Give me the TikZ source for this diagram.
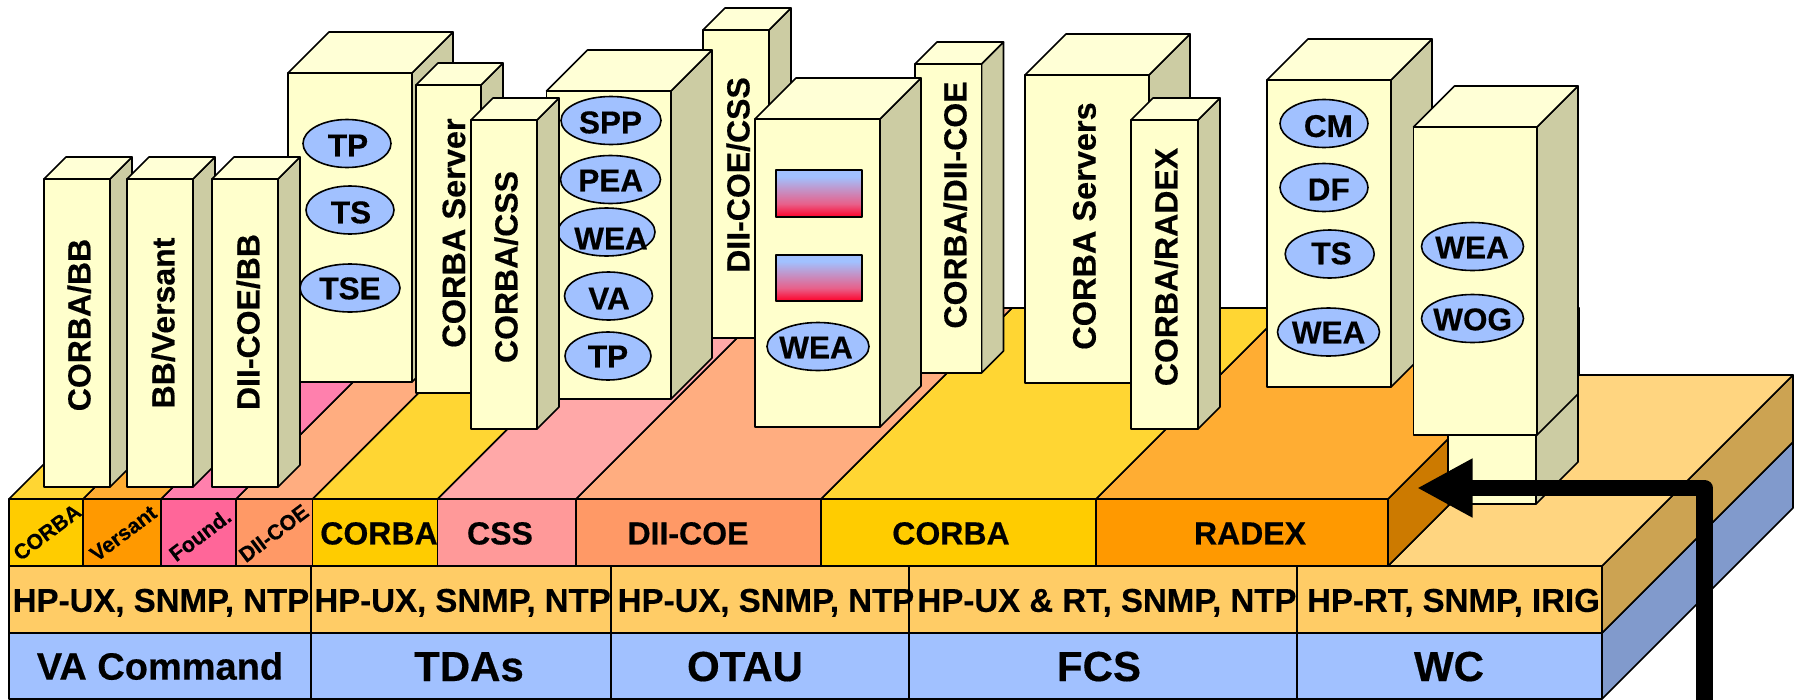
\documentclass[tikz,border=0pt]{standalone}
\usepackage{fontspec}
\setmainfont{Liberation Sans}[BoldFeatures={FakeBold=0.4}]
\usetikzlibrary{shapes.geometric,arrows.meta}
\definecolor{colfront}{HTML}{FFFFCC}
\definecolor{coltop}{HTML}{FFFFD6}
\definecolor{colside}{HTML}{CCCCA3}
\definecolor{ovalblue}{HTML}{A1C1FF}
\definecolor{blueside}{HTML}{819ACC}
\definecolor{hprow}{HTML}{FFCC66}
\definecolor{hpside}{HTML}{CCA352}
\definecolor{hptop}{HTML}{FFD580}
\definecolor{corbaF}{HTML}{FFCC00}
\definecolor{corbaT}{HTML}{FFD633}
\definecolor{versF}{HTML}{FF9900}
\definecolor{versT}{HTML}{FFAD33}
\definecolor{versS}{HTML}{CC7A00}
\definecolor{foundF}{HTML}{FF6699}
\definecolor{foundT}{HTML}{FF80AD}
\definecolor{diiF}{HTML}{FF9966}
\definecolor{diiT}{HTML}{FFAD80}
\definecolor{cssF}{HTML}{FF9999}
\definecolor{cssT}{HTML}{FFA8A8}
\definecolor{redend}{HTML}{FF0028}
\definecolor{pinkmid}{HTML}{E8608A}
\pgfdeclareverticalshading{swatchshade}{100bp}{color(0bp)=(redend); color(25bp)=(redend); color(39bp)=(pinkmid); color(68bp)=(ovalblue); color(100bp)=(ovalblue)}
\tikzset{
  edge/.style={draw=black,line width=1.6pt,line join=round},
  lab/.style={inner sep=0pt,outer sep=0pt,text height={0.716*#1pt},text depth=0pt,
    font=\bfseries\fontsize{#1}{#1}\selectfont},
  oval/.style={ellipse,draw=black,line width=1.6pt,fill=ovalblue,inner sep=0pt},
  swatch/.style={edge,shading=swatchshade}
}
% x1 x2 ytop ybottom depth
\newcommand{\pillar}[5]{%
  \draw[edge,fill=colside] (#2,#3) -- (#2+#5,#3-#5) -- (#2+#5,#4-#5) -- (#2,#4) -- cycle;
  \draw[edge,fill=coltop] (#1,#3) -- (#1+#5,#3-#5) -- (#2+#5,#3-#5) -- (#2,#3) -- cycle;
  \draw[edge,fill=colfront] (#1,#3) rectangle (#2,#4);
}
% x1 x2 front top
\newcommand{\seg}[4]{%
  \draw[edge,fill=#4] (#1,499) -- (#1+191,308) -- (#2+191,308) -- (#2,499) -- cycle;
  \draw[edge,fill=#3] (#1,499) rectangle (#2,566);
}
% name cx cy rx tx ty text
\newcommand{\ovaltext}[7]{%
  \node[oval,minimum width=#4*2pt,minimum height=48pt] (#1) at (#2,#3) {};
  \node[lab=31.5] (#1t) at (#5,#6) {#7};
}
\begin{document}
\begin{tikzpicture}[x=1pt,y=-1pt]
\useasboundingbox (0,0) rectangle (1802,699);
% base plates
\draw[edge,fill=blueside] (1602,633) -- (1793,442) -- (1793,508) -- (1602,699) -- cycle;
\draw[edge,fill=hpside] (1602,566) -- (1793,375) -- (1793,442) -- (1602,633) -- cycle;
\draw[edge,fill=hptop] (1388,566) -- (1579,375) -- (1793,375) -- (1602,566) -- cycle;
\foreach \a/\b in {9/311,311/611,611/909,909/1297,1297/1602}{
  \draw[edge,fill=hprow] (\a,566) rectangle (\b,633);
  \draw[edge,fill=ovalblue] (\a,633) rectangle (\b,699);
}
% middleware layer
\draw[edge,fill=versS] (1388,499) -- (1579,308) -- (1579,375) -- (1388,566) -- cycle;
\seg{1096}{1388}{versF}{versT}
\seg{821}{1096}{corbaF}{corbaT}
\seg{576}{821}{diiF}{diiT}
\seg{437.5}{576}{cssF}{cssT}
\seg{312.5}{437.5}{corbaF}{corbaT}
\seg{236}{312.5}{diiF}{diiT}
\seg{161}{236}{foundF}{foundT}
\seg{83}{161}{versF}{versT}
\seg{9}{83}{corbaF}{corbaT}
% layer labels
\node[lab=21.3,rotate=37] (l1) at (47,532) {CORBA};
\node[lab=21.3,rotate=37] (l2) at (123,533) {Versant};
\node[lab=21.3,rotate=37] (l3) at (200,535) {Found.};
\node[lab=21.3,rotate=37] (l4) at (273.6,533) {DII-COE};
\node[lab=32] (l5) at (379,533) {CORBA};
\node[lab=32] (l6) at (500,533) {CSS};
\node[lab=32] (l7) at (688,533) {DII-COE};
\node[lab=32] (l8) at (951,533) {CORBA};
\node[lab=32] (l9) at (1250,533) {RADEX};
\node[lab=33] (h1) at (161,600) {HP-UX, SNMP, NTP};
\node[lab=33] (h2) at (462.6,600) {HP-UX, SNMP, NTP};
\node[lab=33] (h3) at (766,600) {HP-UX, SNMP, NTP};
\node[lab=33] (h4) at (1107,600) {HP-UX \& RT, SNMP, NTP};
\node[lab=33] (h5) at (1453.5,600) {HP-RT, SNMP, IRIG};
\node[lab=38] (b1) at (160,666) {VA Command};
\node[lab=42] (b2) at (469,666) {TDAs};
\node[lab=42] (b3) at (745,666) {OTAU};
\node[lab=42] (b4) at (1099,666) {FCS};
\node[lab=42] (b5) at (1449,666) {WC};
% columns
\pillar{703}{769}{30}{338}{22}
\node[lab=32,rotate=90] (t8) at (738,175) {DII-COE/CSS};
\pillar{546.5}{671}{91}{399}{41}
\ovaltext{spp}{611}{120.5}{50}{610.5}{122}{SPP}
\ovaltext{pea}{610.5}{179.5}{50}{610.7}{180}{PEA}
\ovaltext{wea}{606.5}{232}{48.5}{611}{238}{WEA}
\ovaltext{va}{608.5}{296}{44}{609}{298}{VA}
\ovaltext{tp}{608}{356}{43}{608}{356}{TP}
\pillar{288}{412}{73}{382}{41}
\ovaltext{tpb}{347}{143.5}{44}{348}{145}{TP}
\ovaltext{tsb}{350}{210}{44}{351}{212}{TS}
\ovaltext{tse}{350}{288}{50}{350}{288}{TSE}
\pillar{416}{481}{85}{393}{22}
\node[lab=32.5,rotate=90] (t5) at (453.5,233) {CORBA Server};
\pillar{471}{537}{120}{429}{22}
\node[lab=32,rotate=90] (t6) at (506,267) {CORBA/CSS};
\pillar{44}{110}{179}{487}{22}
\node[lab=32,rotate=90] (t1) at (79,325) {CORBA/BB};
\pillar{127}{193}{179}{487}{22}
\node[lab=32,rotate=90] (t2) at (163,323) {BB/Versant};
\pillar{212}{278}{179}{487}{22}
\node[lab=32,rotate=90] (t3) at (248,322) {DII-COE/BB};
\pillar{915}{981.5}{64}{373}{22}
\node[lab=32,rotate=90] (t10) at (955,205) {CORBA/DII-COE};
\pillar{755}{880}{119}{427}{41}
\draw[swatch] (775.7,170) rectangle (861.8,217);
\draw[swatch] (775.7,255) rectangle (861.8,301);
\ovaltext{weab}{818}{346.5}{51}{816}{347}{WEA}
\pillar{1025}{1149}{75}{383}{41}
\node[lab=32.5,rotate=90] (t11) at (1084,226) {CORBA Servers};
\pillar{1131}{1198}{120}{429}{22}
\node[lab=32,rotate=90] (t12) at (1166,267) {CORBA/RADEX};
\pillar{1267}{1391}{80}{387}{41}
\ovaltext{cm}{1324}{123.5}{44}{1328.4}{125.7}{CM}
\ovaltext{df}{1324}{187.5}{44}{1328.7}{189}{DF}
\ovaltext{tsc}{1329.7}{254}{44.5}{1331.5}{253}{TS}
\ovaltext{weac}{1328.5}{332}{51}{1328.6}{332}{WEA}
\pillar{1448}{1536}{400}{504}{42}
\pillar{1413.5}{1537}{127}{435}{41}
\ovaltext{wead}{1472.5}{246.5}{51}{1472}{247}{WEA}
\ovaltext{wog}{1472.5}{318.5}{51}{1472.6}{319}{WOG}
% arrow
\coordinate (arrowstart) at (1704.5,702);
\coordinate (arrowbend) at (1704.5,488);
\coordinate (arrowtip) at (1417,488);
\draw[line width=16.5pt,line join=round,-{Triangle[length=55.5pt,width=55pt]}] (arrowstart) -- (arrowbend) -- (arrowtip);
\end{tikzpicture}
\end{document}
